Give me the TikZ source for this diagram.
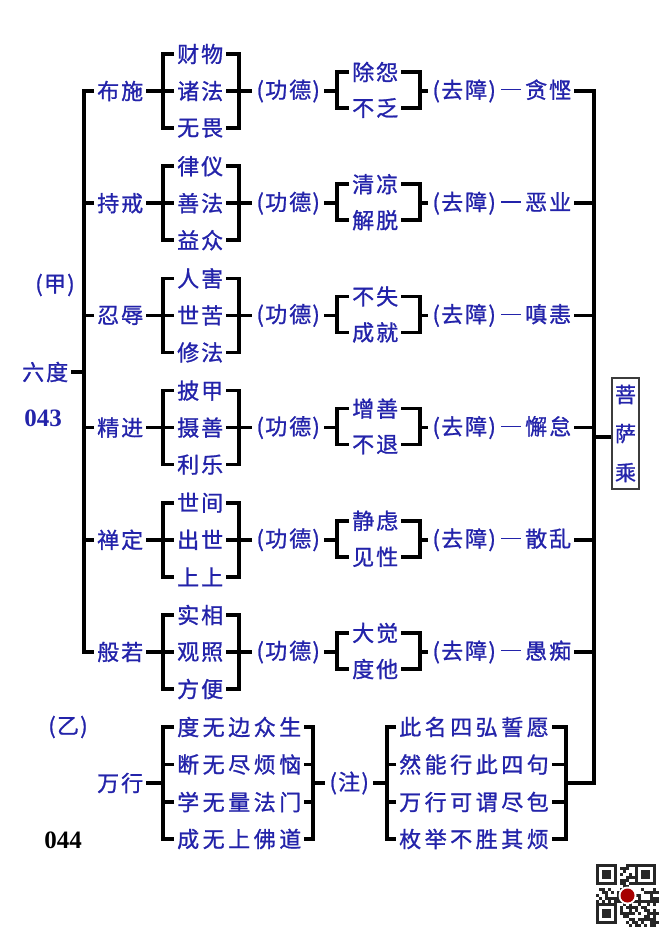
\documentclass[tikz,border=0pt]{standalone}
\usepackage{fontspec}
\newfontfamily\cjk[LetterSpace=9,FakeBold=1]{Noto Sans CJK SC}
\newfontfamily\cjkw[LetterSpace=16,FakeBold=1]{Noto Sans CJK SC}
\newfontfamily\numf{Liberation Serif}
\definecolor{tb}{RGB}{35,35,170}
\definecolor{boxgray}{RGB}{60,60,60}
\newcommand\LP{\makebox[10pt]{(}}
\newcommand\RP{\makebox[10pt]{)}}
\newcommand\DSH{\hspace{4pt}\rule[7.8pt]{20pt}{1.2pt}\hspace{4pt}}
\tikzset{
  lbl/.style={font=\cjk\fontsize{22}{22}\selectfont, text=tb, inner xsep=3pt, inner ysep=0pt, anchor=west},
  lblw/.style={font=\cjkw\fontsize{22}{22}\selectfont, text=tb, inner xsep=3pt, inner ysep=0pt, anchor=west},
  br/.style={line width=3.5pt, line join=miter, line cap=butt},
  numtxt/.style={font=\numf\bfseries\fontsize{25}{25}\selectfont, inner sep=0pt},
}
\begin{document}
\begin{tikzpicture}[x=1pt,y=-1pt]
\useasboundingbox (0,0) rectangle (665,934);
\fill[white] (0,0) rectangle (665,934);

% left labels
\node[lbl, anchor=center] (jia) at (55,285) {\LP 甲\RP};
\node[lbl] (liudu) at (19,372) {六度};
\node[numtxt, text=tb] (n043) at (43,418) {043};
\node[lbl, anchor=center] (yi) at (68,727) {\LP 乙\RP};
\node[numtxt, text=black] (n044) at (63,840) {044};

% six rows
\foreach \i/\A/\Ba/\Bb/\Bc/\Ca/\Cb/\D in {
  1/布施/财物/诸法/无畏/除怨/不乏/贪悭,
  2/持戒/律仪/善法/益众/清凉/解脱/恶业,
  3/忍辱/人害/世苦/修法/不失/成就/嗔恚,
  4/精进/披甲/摄善/利乐/增善/不退/懈怠,
  5/禅定/世间/出世/上上/静虑/见性/散乱,
  6/般若/实相/观照/方便/大觉/度他/愚痴}{
  \pgfmathsetmacro\y{91+112.2*(\i-1)}
  \node[lbl] (a\i) at (94,\y) {\A};
  \node[lbl] (b\i1) at (174,\y-37) {\Ba};
  \node[lbl] (b\i2) at (174,\y) {\Bb};
  \node[lbl] (b\i3) at (174,\y+37) {\Bc};
  \node[lbl] (g\i) at (252,\y) {\LP 功德\RP};
  \node[lbl] (c\i1) at (349,\y-19) {\Ca};
  \node[lbl] (c\i2) at (349,\y+17) {\Cb};
  \node[lbl] (q\i) at (428,\y) {\LP 去障\RP\DSH\D};
  % brackets
  \draw[br] (a\i.east) -- (b\i2.west);
  \draw[br] (b\i1.west) -| (163,\y) |- (b\i3.west);
  \draw[br] (b\i1.east) -| (239,\y) |- (b\i3.east);
  \draw[br] (b\i2.east) -- (g\i.west);
  \draw[br] (g\i.east) -- (337,\y);
  \draw[br] (c\i1.west) -| (337,\y) |- (c\i2.west);
  \draw[br] (c\i1.east) -| (420,\y) |- (c\i2.east);
  \draw[br] (420,\y) -- (q\i.west);
}
% main left bracket
\draw[br] (a1.west) -| (84,372) |- (a6.west);
\foreach \i in {2,...,5}{\draw[br] (a\i.west) -- (84,\i*112.2-21.2);}
\draw[br] (liudu.east) -- (84,372);

% bottom group
\node[lbl] (wx) at (94,783) {万行};
\node[lblw] (m1) at (174,727) {度无边众生};
\node[lblw] (m2) at (174,764.5) {断无尽烦恼};
\node[lblw] (m3) at (174,802) {学无量法门};
\node[lblw] (m4) at (174,839) {成无上佛道};
\node[lbl] (zhu) at (325,783) {\LP 注\RP};
\node[lblw] (n1) at (396,727) {此名四弘誓愿};
\node[lblw] (n2) at (396,764.5) {然能行此四句};
\node[lblw] (n3) at (396,802) {万行可谓尽包};
\node[lblw] (n4) at (396,839) {枚举不胜其烦};
\draw[br] (wx.east) -- (163,783);
\draw[br] (m1.west) -| (163,783) |- (m4.west);
\draw[br] (m2.west) -- (163,764.5);
\draw[br] (m3.west) -- (163,802);
\draw[br] (m1.east) -| (313,783) |- (m4.east);
\draw[br] (m2.east) -- (313,764.5);
\draw[br] (m3.east) -- (313,802);
\draw[br] (313,783) -- (zhu.west);
\draw[br] (zhu.east) -- (387,783);
\draw[br] (n1.west) -| (387,783) |- (n4.west);
\draw[br] (n2.west) -- (387,764.5);
\draw[br] (n3.west) -- (387,802);
\draw[br] (n1.east) -| (566,783) |- (n4.east);
\draw[br] (n2.east) -- (566,764.5);
\draw[br] (n3.east) -- (566,802);

% right bracket and box
\node[draw=boxgray, line width=1.5pt, minimum width=27pt, minimum height=111pt, inner sep=0pt,
      align=center, text=tb, font=\cjk\fontsize{21}{39}\selectfont] (box) at (625.5,433.5) {菩\\萨\\乘};
\draw[br] (q1.east) -| (594,783) -- (566,783);
\foreach \i in {2,...,6}{\draw[br] (q\i.east) -- (594,\i*112.2-21.2);}
\draw[br] (594,437) -- (box.west |- 594,437);

% QR-like code
\fill[white] (594,862) rectangle (661,929);
\pgfmathsetseed{7}
\foreach \i in {0,...,20}{\foreach \j in {0,...,20}{
  \pgfmathtruncatemacro\f{((\i<8)&&(\j<8)) || ((\i>12)&&(\j<8)) || ((\i<8)&&(\j>12))}
  \pgfmathtruncatemacro\r{rnd<0.5}
  \ifnum\f=0 \ifnum\r=1 \fill[black!85] (596+3*\i,864+3*\j) rectangle ++(3,3); \fi\fi
}}
\foreach \cx/\cy in {596/864, 635/864, 596/903}{
  \fill[black!85] (\cx,\cy) rectangle ++(21,21);
  \fill[white] (\cx+3,\cy+3) rectangle ++(15,15);
  \fill[black!85] (\cx+6,\cy+6) rectangle ++(9,9);
}
\fill[white] (627.5,895.5) circle (9);
\fill[red!65!black] (627.5,895.5) circle (7);
\end{tikzpicture}
\end{document}
